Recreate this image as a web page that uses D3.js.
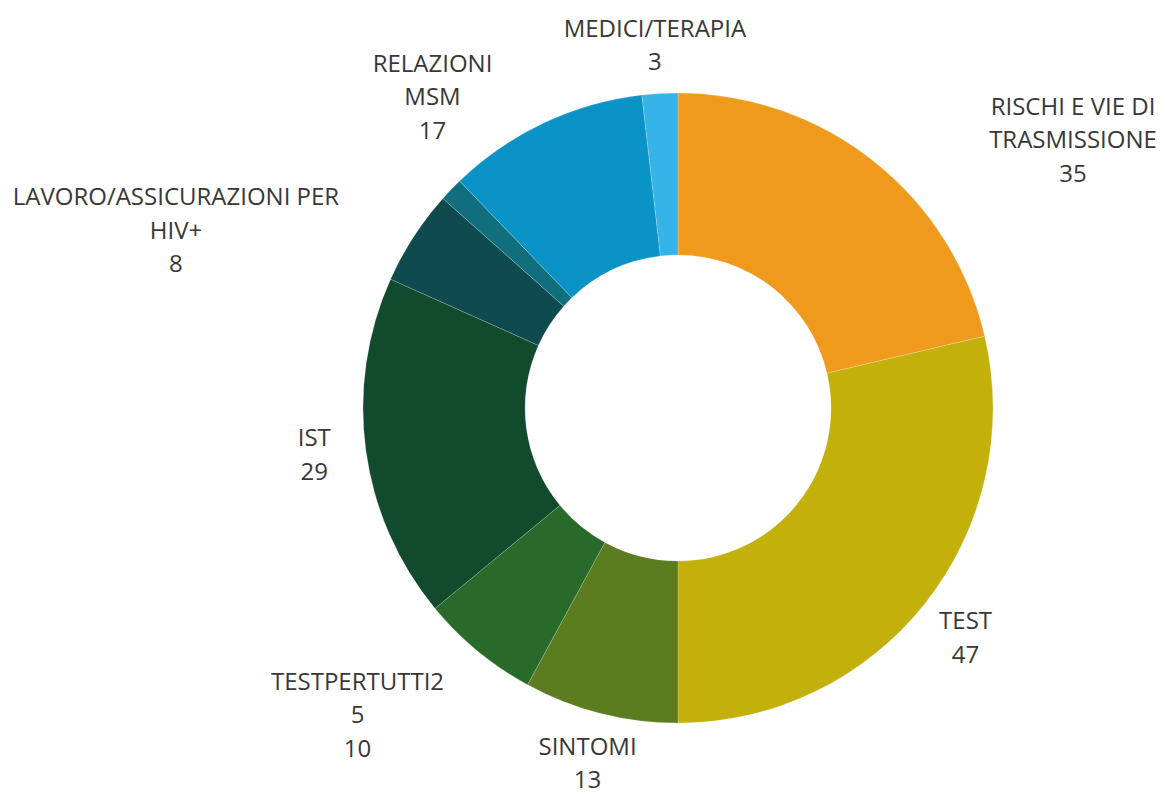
<!DOCTYPE html>
<html>
<head>
<meta charset="utf-8">
<script src="https://cdn.jsdelivr.net/npm/d3@7"></script>
<style>
  body { margin: 0; background: #fff; }
  text { font-family: "Open Sans", sans-serif; font-size: 24px; font-weight: 400; fill: #383838; }
</style>
</head>
<body>
<script>
// data, clockwise from 12 o'clock
const categories = [
    ["RISCHI E VIE DI", "TRASMISSIONE"],
    ["TEST"],
    ["SINTOMI"],
    ["TESTPERTUTTI2", "5"],
    ["IST"],
    ["LAVORO/ASSICURAZIONI PER", "HIV+"],
    [],
    ["RELAZIONI", "MSM"],
    ["MEDICI/TERAPIA"]
]
const values = [35, 47, 13, 10, 29, 8, 2, 17, 3]
const colors = ["#ef9a1c", "#c4b00b", "#5b7d1f", "#286a2a", "#124a2d", "#0f4a4f", "#116f7d", "#0a93c6", "#36b4e8"]

// layout
const width = 1162
const height = 794
const center = [678, 408]
const outerR = 315
const innerR = 153
const labelR = 367
const lineH = 33.5
// horizontal/vertical push for labels that sit too close to the ring
const labelNudge = [[167, 18], [0, 0], [0, -2], [-87, 22], [0, -4], [-194, 20], [0, 0], [-89, 19], [-2, 2]]

const svg = d3.select("body")
    .append("svg")
    .attr("width", width)
    .attr("height", height)

const g = svg.append("g")
    .attr("transform", "translate(" + center + ")")

const pie = d3.pie().sort(null).value(d => d)
const arcs = pie(values)
const arc = d3.arc().innerRadius(innerR).outerRadius(outerR)

g.selectAll("path")
    .data(arcs)
    .join("path")
    .attr("d", arc)
    .attr("fill", (d, i) => colors[i])
    .attr("stroke", "#fff")
    .attr("stroke-width", 0.2)

arcs.forEach((d, i) => {
    if (categories[i].length == 0) return
    let mid = (d.startAngle + d.endAngle) / 2
    let lines = categories[i].concat([String(values[i])])
    let cx = Math.sin(mid) * labelR + labelNudge[i][0]
    let cy = -Math.cos(mid) * labelR + labelNudge[i][1]
    let top = cy - (lines.length - 1) * lineH / 2
    let t = g.append("text")
        .attr("text-anchor", "middle")
        .attr("dominant-baseline", "central")
    lines.forEach((line, j) => {
        t.append("tspan")
            .attr("x", cx)
            .attr("y", top + j * lineH)
            .text(line)
    })
})
</script>
</body>
</html>
